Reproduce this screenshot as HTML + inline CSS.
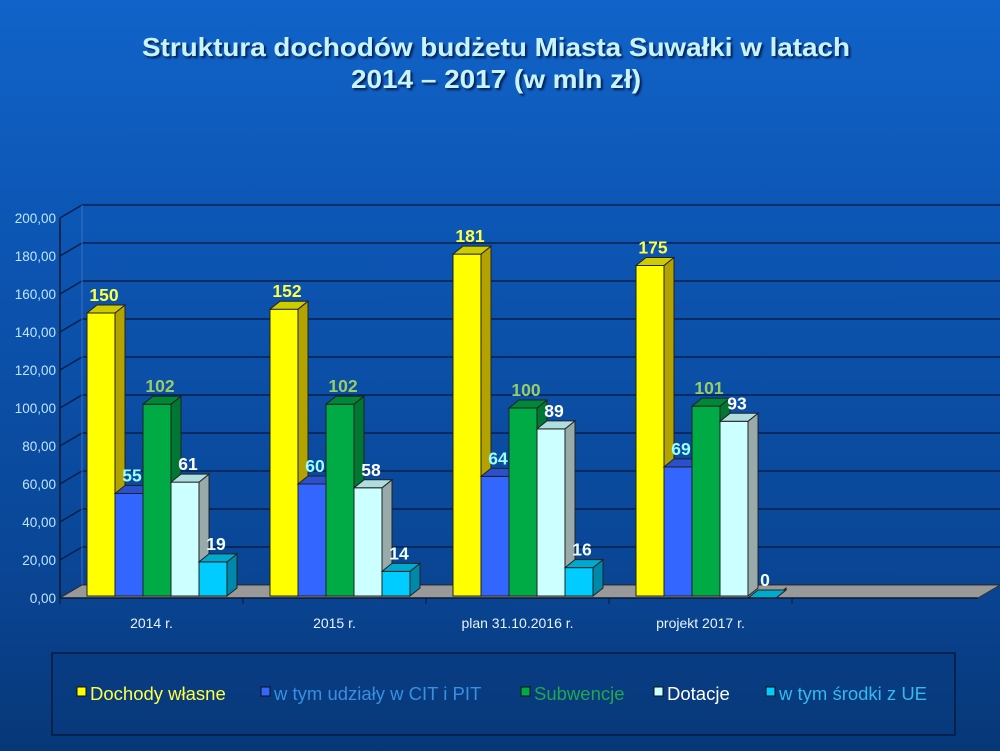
<!DOCTYPE html>
<html><head><meta charset="utf-8"><style>
html,body{margin:0;padding:0;width:1000px;height:751px;overflow:hidden;background:#0b4ea8}
svg{display:block}
text{font-family:"Liberation Sans",Arial,sans-serif}
</style></head><body>
<svg id="c" width="1000" height="751" viewBox="0 0 1000 751">
<defs>
<linearGradient id="bg" x1="0" y1="0" x2="0" y2="1">
<stop offset="0" stop-color="#1163c9"/><stop offset="0.3" stop-color="#0c56b4"/><stop offset="0.75" stop-color="#0a4696"/><stop offset="1" stop-color="#073777"/>
</linearGradient>
<filter id="sh"><feDropShadow dx="2" dy="2" stdDeviation="1" flood-color="#002" flood-opacity="0.7"/></filter>
</defs>
<rect width="1000" height="751" fill="url(#bg)"/>
<g filter="url(#sh)" fill="#c8f4ff" font-weight="bold" font-size="26" text-anchor="middle">
<text x="496" y="56" textLength="708" lengthAdjust="spacingAndGlyphs" style="font-family:'Liberation Sans Narrow','Liberation Sans',sans-serif">Struktura dochodów budżetu Miasta Suwałki w latach</text>
<text x="496" y="88" textLength="290" lengthAdjust="spacingAndGlyphs" style="font-family:'Liberation Sans Narrow','Liberation Sans',sans-serif">2014 – 2017 (w mln zł)</text>
</g>
<g id="grid"></g><g id="floor"></g><g id="bars"></g><g id="axes"></g>
<rect x="52" y="653" width="903" height="82" fill="#083a7e" fill-opacity="0.5" stroke="#051a40" stroke-width="1.5"/>
<g id="legend" font-size="18.5"></g>
</svg>
<script>
const categories = ["2014 r.","2015 r.","plan 31.10.2016 r.","projekt 2017 r.",""];
const seriesNames = ["Dochody własne","w tym udziały w CIT i PIT","Subwencje","Dotacje","w tym środki z UE"];
const dochodyWlasne = [150,152,181,175,null];
const udzialyCitPit = [55,60,64,69,null];
const subwencje = [102,102,100,101,null];
const dotacje = [61,58,89,93,null];
const srodkiUE = [19,14,16,0,null];
const yTicks = [0,20,40,60,80,100,120,140,160,180,200];
const yTickLabels = ["0,00","20,00","40,00","60,00","80,00","100,00","120,00","140,00","160,00","180,00","200,00"];

const series=[dochodyWlasne,udzialyCitPit,subwencje,dotacje,srodkiUE];
const face=["#ffff00","#3366ff","#00aa44","#ccffff","#00ccff"];
const side=["#b3a300","#2244aa","#007733","#99aaaa","#0088aa"];
const top_=["#cccc00","#2a50cc","#008838","#b0dddd","#00aacc"];
const lblColor=["#ffff44","#99ffff","#99cc66","#ffffff","#eeffff"];
const legColor=["#ffff44","#3a8fe0","#1fa850","#ffffff","#33bbee"];
const NS="http://www.w3.org/2000/svg";
const X0=60,X1=975,Y0=598,K=1.9,DX=22,DY=-13;
const catW=(X1-X0)/categories.length;
function yS(v){return Y0-v*K;}
function catX(i){return X0+catW*i;}
function mk(tag,attrs,parent){const e=document.createElementNS(NS,tag);for(const k in attrs)e.setAttribute(k,attrs[k]);parent.appendChild(e);return e;}
const grid=document.getElementById('grid');
yTicks.forEach((t,i)=>{
  const y=yS(t);
  const l=mk('polyline',{points:`${X0},${y} ${X0+DX},${y+DY} ${1000},${y+DY}`,fill:'none',stroke:'#06204a','stroke-width':1.5},grid);
  
  
  const tx=mk('text',{x:X0-4,y:y+5,'text-anchor':'end','font-size':13.5,fill:'#bfe6ff'},grid);
  tx.textContent=yTickLabels[i];
  
  
});
mk('line',{x1:X0+DX,y1:yS(0)+DY,x2:X0+DX,y2:yS(200)+DY,stroke:'#3a70c0','stroke-width':1},grid);
const floor=document.getElementById('floor');
const fl=mk('polygon',{points:`${X0},${Y0} ${X1+3},${Y0} ${1000},${Y0+DY} ${X0+DX},${Y0+DY}`,fill:'#999',stroke:'#333','stroke-width':1},floor);


const axes=document.getElementById('axes');
mk('line',{x1:X0,y1:Y0,x2:X0,y2:yS(200),stroke:'#0a1a33','stroke-width':1.5},axes);
mk('line',{x1:X0,y1:Y0,x2:X1+3,y2:Y0,stroke:'#0a1a33','stroke-width':1.5},axes);
categories.forEach((c,i)=>{
  mk('line',{x1:catX(i),y1:Y0,x2:catX(i),y2:Y0+6,stroke:'#0a1a33'},axes);
  const t=mk('text',{x:catX(i)+catW/2,y:628,'text-anchor':'middle','font-size':14,fill:'#e6f4ff'},axes);
  t.textContent=c;
  
  
});
const bars=document.getElementById('bars');
const BW=28,BD=10,BH=-8;
categories.forEach((c,i)=>{
  series.forEach((arr,s)=>{
    const v=arr[i]; if(v===null||v===undefined)return;
    const x=catX(i)+27+s*BW, y=yS(v), yb=Y0-2;
    const g=mk('g',{},bars);
    
    
    mk('rect',{x:x,y:y,width:BW,height:Math.max(0,yb-y),fill:face[s],stroke:'#222','stroke-width':1},g);
    mk('polygon',{points:`${x+BW},${y} ${x+BW+BD},${y+BH} ${x+BW+BD},${yb+BH} ${x+BW},${yb}`,fill:side[s],stroke:'#222','stroke-width':1},g);
    mk('polygon',{points:`${x},${y} ${x+BD},${y+BH} ${x+BW+BD},${y+BH} ${x+BW},${y}`,fill:top_[s],stroke:'#222','stroke-width':1},g);
    const t=mk('text',{x:x+BW/2+3,y:y+BH-4,'text-anchor':'middle','font-size':17.5,'font-weight':'bold',fill:lblColor[s]},bars);
    t.textContent=String(v);
    
    
  });
});
const leg=document.getElementById('legend');
const legX=[77,261,521,654,766];
seriesNames.forEach((n,s)=>{
  const g=mk('g',{},leg);
  
  
  mk('rect',{x:legX[s],y:687,width:9,height:9,fill:face[s],stroke:'#111'},g);
  const t=mk('text',{x:legX[s]+13,y:700,fill:legColor[s]},g);
  t.textContent=n;
});
</script>
</body></html>
